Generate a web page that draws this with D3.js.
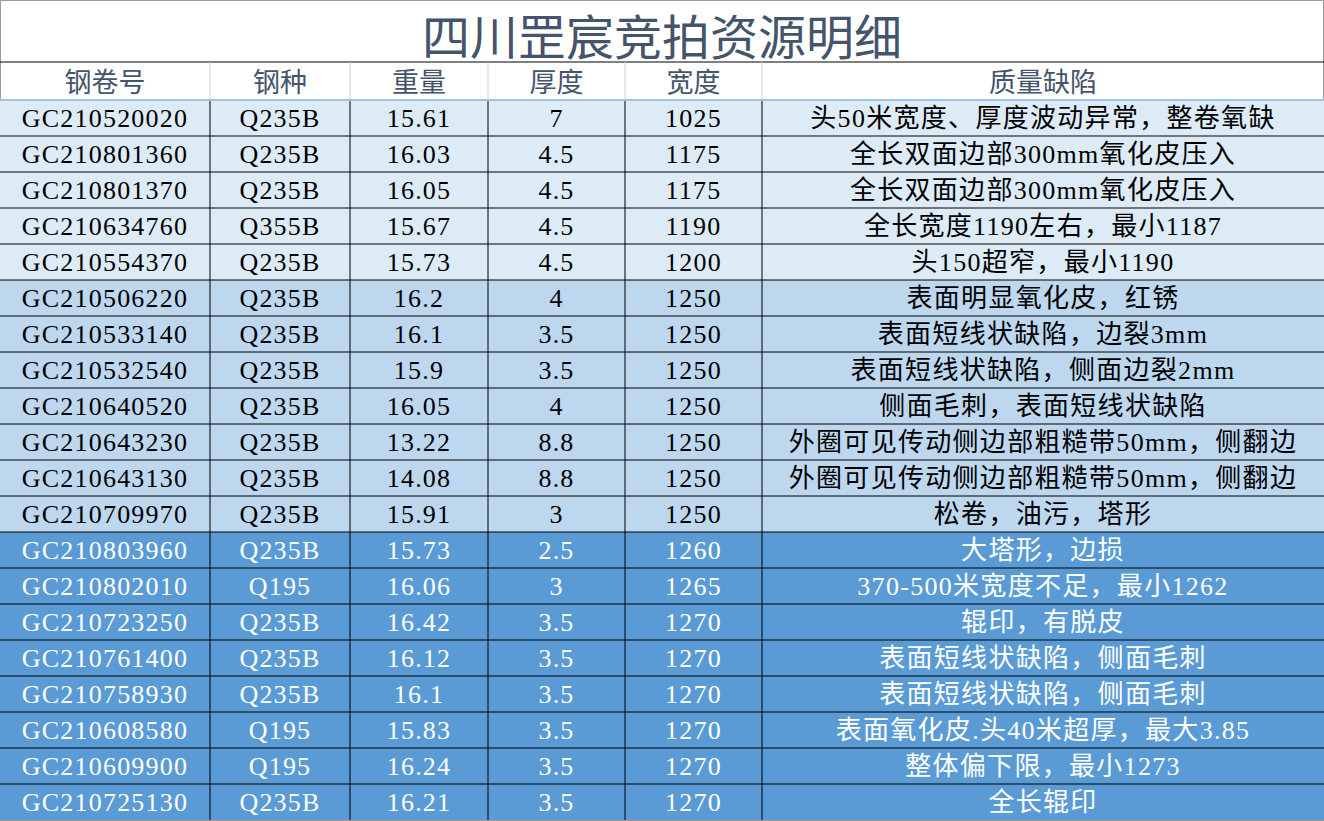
<!DOCTYPE html>
<html><head><meta charset="utf-8">
<script src="https://cdn.jsdelivr.net/npm/d3@7"></script>
<style>body{margin:0;background:#fff}</style></head><body>
<svg id="c" width="1324" height="821"></svg>
<script>
const title = "四川罡宸竞拍资源明细";
const headers = ["钢卷号","钢种","重量","厚度","宽度","质量缺陷"];
const coilIds = ["GC210520020","GC210801360","GC210801370","GC210634760","GC210554370","GC210506220","GC210533140","GC210532540","GC210640520","GC210643230","GC210643130","GC210709970","GC210803960","GC210802010","GC210723250","GC210761400","GC210758930","GC210608580","GC210609900","GC210725130"];
const grades = ["Q235B","Q235B","Q235B","Q355B","Q235B","Q235B","Q235B","Q235B","Q235B","Q235B","Q235B","Q235B","Q235B","Q195","Q235B","Q235B","Q235B","Q195","Q195","Q235B"];
const weights = ["15.61","16.03","16.05","15.67","15.73","16.2","16.1","15.9","16.05","13.22","14.08","15.91","15.73","16.06","16.42","16.12","16.1","15.83","16.24","16.21"];
const thickness = ["7","4.5","4.5","4.5","4.5","4","3.5","3.5","4","8.8","8.8","3","2.5","3","3.5","3.5","3.5","3.5","3.5","3.5"];
const widths = ["1025","1175","1175","1190","1200","1250","1250","1250","1250","1250","1250","1250","1260","1265","1270","1270","1270","1270","1270","1270"];
const defects = ["头50米宽度、厚度波动异常，整卷氧缺","全长双面边部300mm氧化皮压入","全长双面边部300mm氧化皮压入","全长宽度1190左右，最小1187","头150超窄，最小1190","表面明显氧化皮，红锈","表面短线状缺陷，边裂3mm","表面短线状缺陷，侧面边裂2mm","侧面毛刺，表面短线状缺陷","外圈可见传动侧边部粗糙带50mm，侧翻边","外圈可见传动侧边部粗糙带50mm，侧翻边","松卷，油污，塔形","大塔形，边损","370-500米宽度不足，最小1262","辊印，有脱皮","表面短线状缺陷，侧面毛刺","表面短线状缺陷，侧面毛刺","表面氧化皮.头40米超厚，最大3.85","整体偏下限，最小1273","全长辊印"];

const colEdges = [0,210,350,488,625,762,1324];
const svg = d3.select("#c");
const font = "'Liberation Serif','Noto Sans CJK SC',serif";
const rows = coilIds.map((id,i)=>[id,grades[i],weights[i],thickness[i],widths[i],defects[i]]);
const y = d3.scaleBand().domain(d3.range(rows.length)).range([100,820]).padding(0);
const fillFor = i => i<5 ? "#DDEBF7" : i<12 ? "#BDD7EE" : "#5B9BD5";
const textFor = i => i<12 ? "#000" : "#fff";

svg.append("rect").attr("x",0.5).attr("y",0.5).attr("width",1323).attr("height",820).attr("fill","#fff").attr("stroke","#999");
svg.append("text").attr("x",662).attr("y",55).attr("text-anchor","middle").attr("font-family","'Noto Sans CJK SC'").attr("font-size",48).attr("fill","#44546A").text(title);
svg.append("line").attr("x1",0).attr("x2",1324).attr("y1",62).attr("y2",62).attr("stroke","#000");
headers.forEach((h,j)=>{
  svg.append("text").attr("x",(colEdges[j]+colEdges[j+1])/2).attr("y",92).attr("text-anchor","middle").attr("font-family","'Noto Sans CJK SC'").attr("font-size",27).attr("fill","#44546A").text(h);
  if(j>0) svg.append("line").attr("x1",colEdges[j]).attr("x2",colEdges[j]).attr("y1",62).attr("y2",100).attr("stroke","#d0d0d0");
});
const g = svg.selectAll("g.row").data(rows).join("g").attr("class","row").attr("transform",(d,i)=>`translate(0,${y(i)})`);
g.append("rect").attr("x",0).attr("width",1324).attr("height",y.bandwidth()).attr("fill",(d,i)=>fillFor(i));
g.each(function(d,i){
  const gg=d3.select(this);
  d.forEach((v,j)=>{
    gg.append("text").attr("x",(colEdges[j]+colEdges[j+1])/2).attr("y",y.bandwidth()/2+9).attr("text-anchor","middle")
      .attr("font-family",font).attr("font-size",26).attr("letter-spacing",j===5?1.3:1.2).attr("fill",textFor(i)).text(v);
  });
  colEdges.slice(1,-1).forEach(x=>gg.append("line").attr("x1",x).attr("x2",x).attr("y1",0).attr("y2",y.bandwidth()).attr("stroke","#000"));
  if(i>0) gg.append("line").attr("x1",0).attr("x2",1324).attr("y1",0).attr("y2",0).attr("stroke","#000");
});
svg.append("line").attr("x1",0).attr("x2",1324).attr("y1",100).attr("y2",100).attr("stroke","#9DC3E6").attr("stroke-width",2);
</script></body></html>
